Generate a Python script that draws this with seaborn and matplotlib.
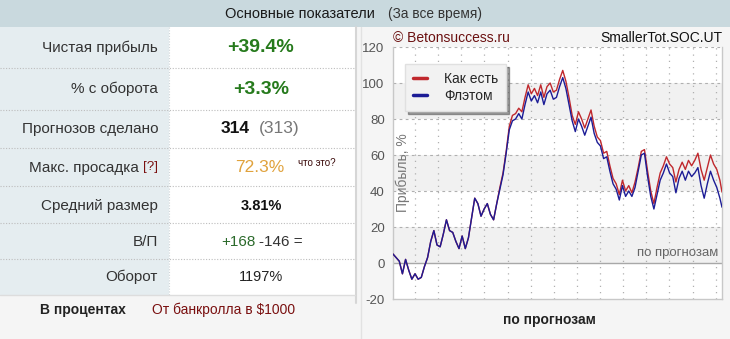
import numpy as np
import pandas as pd
import matplotlib
matplotlib.use('Agg')
import matplotlib.pyplot as plt
import seaborn as sns
from matplotlib.patches import Rectangle
from matplotlib.lines import Line2D

# ---------------- data ----------------
row_labels = ["Чистая прибыль", "% с оборота", "Прогнозов сделано", "Макс. просадка",
              "Средний размер", "В/П", "Оборот"]
net_profit = "+39.4%"
turnover_pct = "+3.3%"
bets_made = "314"
bets_made_alt = "(313)"
max_drawdown = "72.3%"
avg_size = "3.81%"
wins, losses = "+168", "-146 ="
turnover = "1197%"

bets = list(range(0, 313, 3)) + [314]
kak_est = [5, 3, 1, -6, 2, -4, -9, -6, -9, -8,
           -2, 3, 12, 18, 10, 9, 16, 24, 18, 17,
           12, 8, 15, 8, 14, 25, 36, 33, 26, 30,
           33, 27, 24, 33, 42, 50, 62, 76, 82, 83,
           86, 84, 92, 99, 94, 97, 93, 99, 92, 98,
           100, 95, 96, 102, 107, 101, 92, 82, 77, 84,
           80, 75, 80, 85, 76, 70, 68, 61, 62, 54,
           47, 44, 38, 46, 40, 43, 39, 45, 53, 62,
           63, 51, 40, 33, 42, 50, 54, 59, 55, 53,
           45, 52, 56, 52, 57, 54, 57, 61, 52, 46,
           53, 60, 55, 52, 46, 39.4]
flatom = [5, 3, 1, -6, 2, -4, -9, -6, -9, -8,
          -2, 3, 12, 18, 10, 9, 16, 24, 18, 17,
          12, 8, 15, 8, 14, 25, 36, 33, 26, 30,
          33, 27, 24, 33, 41, 49, 61, 74, 79, 80,
          83, 80, 88, 95, 90, 93, 89, 95, 88, 94,
          96, 91, 92, 98, 103, 97, 88, 79, 73, 80,
          76, 71, 76, 81, 72, 67, 65, 58, 59, 51,
          44, 41, 35, 43, 37, 40, 37, 42, 51, 60,
          61, 48, 37, 30, 38, 46, 50, 55, 50, 48,
          39, 47, 51, 46, 51, 48, 50, 53, 43, 36,
          44, 51, 46, 42, 36, 31]
series_names = ["Как есть", "Флэтом"]
y_ticks = [-20, 0, 20, 40, 60, 80, 100, 120]

# ---------------- style ----------------
sns.set_style('white')
plt.rcParams['font.family'] = ['Liberation Sans', 'DejaVu Sans']
plt.rcParams['axes.unicode_minus'] = False

RED = '#c0282d'
BLUE = '#1c1c96'
W, H = 730, 339
fig = plt.figure(figsize=(7.3, 3.39), dpi=100)
fig.patch.set_facecolor('#f5f5f5')


def fx(x):
    return x / W


def fy(y):
    return 1 - y / H


def rect(x0, y0, x1, y1, **kw):
    fig.add_artist(Rectangle((fx(x0), fy(y1)), (x1 - x0) / W, (y1 - y0) / H,
                             transform=fig.transFigure, **kw))


def hline(x0, x1, y, **kw):
    fig.add_artist(Line2D([fx(x0), fx(x1)], [fy(y), fy(y)], transform=fig.transFigure, **kw))


def vline(x, y0, y1, **kw):
    fig.add_artist(Line2D([fx(x), fx(x)], [fy(y0), fy(y1)], transform=fig.transFigure, **kw))


def txt(x, y, s, **kw):
    kw.setdefault('va', 'center')
    return fig.text(fx(x), fy(y), s, **kw)


# header
rect(0, 0, 730, 27, fc='#c9d9de', ec='none')
txt(225, 14, "Основные показатели", fontsize=10.5, color='#1a1a1a')
txt(388, 14, "(За все время)", fontsize=9.8, color='#333333')

# table
rect(0, 27, 169, 295, fc='#e5edf0', ec='none')
rect(169, 27, 355, 295, fc='white', ec='none')
vline(169, 27, 295, color='#cfd6d9', lw=0.8, ls=(0, (1, 1.5)))
vline(356, 27, 303, color='#d6d6d6', lw=1.5)
vline(361, 27, 339, color='#e2e2e2', lw=1)
for yy in [68, 110, 148, 186, 223, 259]:
    hline(0, 355, yy, color='#bdbdbd', lw=0.8, ls=(0, (1, 1.5)))
hline(0, 355, 295, color='#dddddd', lw=1)

row_y = [48, 89, 129, 168, 206, 242, 277]
for lab, yy in zip(row_labels, row_y):
    xr = 139 if lab.startswith("Макс") else 158
    txt(xr, yy, lab, ha='right', fontsize=11, color='#333333')
txt(158, 167, "[?]", ha='right', fontsize=9.5, color='#7a1010')

GREEN = '#267a1c'
txt(261, 48, net_profit, ha='center', fontsize=14, fontweight='bold', color=GREEN)
txt(261, 89, turnover_pct, ha='center', fontsize=14, fontweight='bold', color=GREEN)
txt(250, 129, bets_made, ha='right', fontsize=12.5, fontweight='bold', color='#111111')
txt(259, 129, bets_made_alt, ha='left', fontsize=12.5, color='#777777')
txt(260, 168, max_drawdown, ha='center', fontsize=12.5, color='#e0a23c')
txt(298, 163, "что это?", ha='left', fontsize=7, color='#3a0a0a')
txt(261, 206, avg_size, ha='center', fontsize=10.5, fontweight='bold', color='#111111')
txt(256, 242, wins, ha='right', fontsize=11, color='#2b6a2b')
txt(259, 242, losses, ha='left', fontsize=11, color='#333333')
txt(261, 277, turnover, ha='center', fontsize=10.5, color='#222222')

txt(40, 310, "В процентах", ha='left', fontsize=10, fontweight='bold', color='#222222')
txt(152, 310, "От банкролла в $1000", ha='left', fontsize=10, color='#7a1010')

# ---------------- chart ----------------
ax = fig.add_axes([fx(393), fy(299), (722 - 393) / W, (299 - 47) / H])
ax.set_facecolor('white')
for lo in (0, 40, 80):
    ax.axhspan(lo, lo + 20, color='#f1f1f1', zorder=0, lw=0)
for yv in y_ticks[2:]:
    ax.axhline(yv, color='#b0b0b0', ls=(0, (2.5, 3)), lw=0.8, zorder=1)
ax.axhline(0, color='#a8a8a8', lw=1, zorder=1)
for xv in np.linspace(21, 308, 14):
    ax.axvline(xv, color='#b0b0b0', ls=(0, (1, 4)), lw=0.9, zorder=1)

df = pd.DataFrame({
    'bet': bets + bets,
    'profit': kak_est + flatom,
    'series': [series_names[0]] * len(bets) + [series_names[1]] * len(bets),
})
sns.lineplot(data=df, x='bet', y='profit', hue='series',
             palette={series_names[0]: RED, series_names[1]: BLUE},
             lw=1.0, ax=ax, legend=False, zorder=3)

ax.set_xlim(0, 314)
ax.set_ylim(-20, 120)
ax.set_xticks([])
ax.set_yticks(y_ticks)
ax.set_xlabel('')
ax.set_ylabel('')
ax.tick_params(axis='y', length=0, pad=6, labelsize=9.5, labelcolor='#555555')
for s in ('left', 'bottom', 'right'):
    ax.spines[s].set_color('#c8c8c8')
    ax.spines[s].set_linewidth(1)
ax.spines['top'].set_visible(False)

handles = [Line2D([], [], color=RED, lw=2.5), Line2D([], [], color=BLUE, lw=2.5)]
leg = ax.legend(handles, series_names, loc='upper left', bbox_to_anchor=(0.015, 0.96),
                frameon=True, fancybox=False, shadow=True, handlelength=1.0,
                fontsize=10, borderpad=0.6, labelspacing=0.2, handletextpad=1.2)
leg.get_frame().set_facecolor('#f2f2f2')
leg.get_frame().set_edgecolor('#e0e0e0')
leg.set_zorder(5)

txt(393, 38, "© Betonsuccess.ru", ha='left', fontsize=10, color='#6b1010')
txt(722, 38, "SmallerTot.SOC.UT", ha='right', fontsize=10, color='#111111')
txt(403, 173, "Прибыль, %", ha='center', rotation=90, fontsize=10, color='#777777')
txt(718, 253, "по прогнозам", ha='right', fontsize=9.5, color='#666666')
txt(549, 320, "по прогнозам", ha='center', fontsize=10, fontweight='bold', color='#222222')

fig.savefig('out.png', dpi=100, facecolor=fig.get_facecolor())
